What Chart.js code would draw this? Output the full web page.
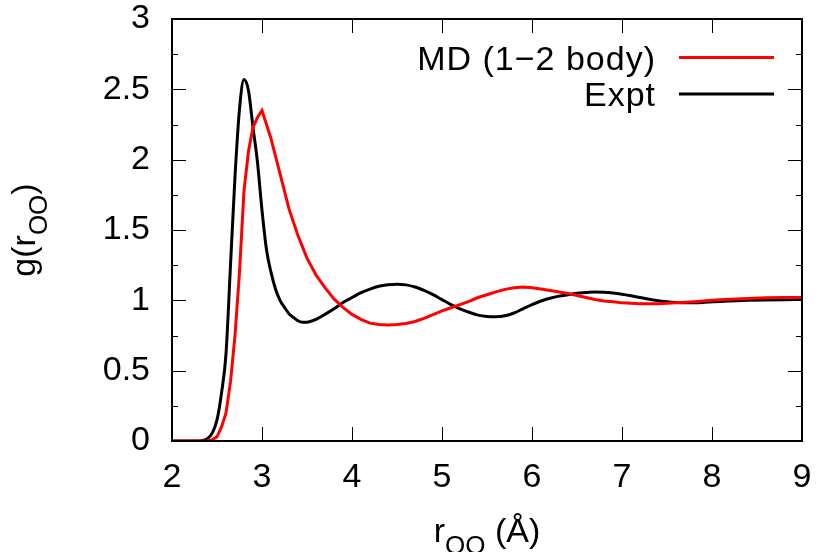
<!DOCTYPE html>
<html>
<head>
<meta charset="utf-8">
<script src="https://cdn.jsdelivr.net/npm/chart.js@4.4.1/dist/chart.umd.min.js"></script>
<style>
  body { margin: 0; background: #fff; }
  #wrap { width: 817px; height: 552px; position: relative; }
</style>
</head>
<body>
<div id="wrap"><canvas id="rdfChart"></canvas></div>
<script>
// g(r_OO) curves
var rMD = [2.0, 2.2, 2.4, 2.45, 2.5, 2.55, 2.6, 2.65, 2.7, 2.75, 2.8, 2.85, 2.9, 2.95, 3.0, 3.05, 3.1, 3.2, 3.3, 3.4, 3.5, 3.6, 3.7, 3.8, 3.9, 4.0, 4.1, 4.2, 4.3, 4.4, 4.5, 4.6, 4.7, 4.8, 4.9, 5.0, 5.1, 5.2, 5.3, 5.4, 5.5, 5.6, 5.7, 5.8, 5.9, 6.0, 6.1, 6.2, 6.3, 6.4, 6.5, 6.6, 6.7, 6.8, 6.9, 7.0, 7.2, 7.4, 7.6, 7.8, 8.0, 8.2, 8.4, 8.6, 8.8, 9.0];
var gMD = [0, 0, 0, 0.01, 0.03, 0.1, 0.2, 0.42, 0.75, 1.2, 1.78, 2.06, 2.23, 2.3, 2.35, 2.25, 2.15, 1.9, 1.65, 1.46, 1.3, 1.18, 1.09, 1.01, 0.95, 0.9, 0.865, 0.838, 0.828, 0.825, 0.828, 0.835, 0.85, 0.872, 0.898, 0.925, 0.947, 0.97, 0.992, 1.02, 1.04, 1.06, 1.078, 1.09, 1.095, 1.09, 1.08, 1.07, 1.06, 1.049, 1.035, 1.02, 1.006, 0.996, 0.99, 0.982, 0.975, 0.975, 0.982, 0.99, 1.0, 1.008, 1.013, 1.018, 1.02, 1.02];

var rExpt = [2.0, 2.2, 2.3, 2.35, 2.4, 2.45, 2.5, 2.55, 2.6, 2.65, 2.7, 2.75, 2.8, 2.85, 2.9, 2.95, 3.0, 3.05, 3.1, 3.15, 3.2, 3.25, 3.3, 3.35, 3.4, 3.45, 3.5, 3.6, 3.7, 3.8, 3.9, 4.0, 4.1, 4.2, 4.3, 4.4, 4.5, 4.6, 4.7, 4.8, 4.9, 5.0, 5.1, 5.2, 5.3, 5.4, 5.5, 5.6, 5.7, 5.8, 5.9, 6.0, 6.1, 6.2, 6.3, 6.4, 6.5, 6.6, 6.7, 6.8, 6.9, 7.0, 7.1, 7.2, 7.3, 7.4, 7.5, 7.6, 7.7, 7.8, 7.9, 8.0, 8.2, 8.4, 8.6, 8.8, 9.0];
var gExpt = [0, 0, 0, 0.005, 0.02, 0.06, 0.15, 0.34, 0.62, 1.25, 1.88, 2.36, 2.57, 2.49, 2.23, 1.98, 1.64, 1.36, 1.2, 1.08, 1.0, 0.95, 0.905, 0.878, 0.855, 0.845, 0.845, 0.865, 0.9, 0.94, 0.985, 1.02, 1.055, 1.08, 1.1, 1.11, 1.115, 1.11, 1.095, 1.07, 1.04, 1.005, 0.97, 0.94, 0.915, 0.895, 0.885, 0.883, 0.89, 0.91, 0.94, 0.97, 0.995, 1.015, 1.03, 1.04, 1.05, 1.055, 1.06, 1.058, 1.052, 1.043, 1.032, 1.02, 1.008, 0.998, 0.99, 0.985, 0.983, 0.983, 0.985, 0.99, 0.995, 1.0, 1.003, 1.005, 1.006];

var seriesLabels = ['MD (1\u22122 body)', 'Expt'];
var seriesColors = ['#ff0000', '#000000'];

var FONT = 'Liberation Sans, Arial, sans-serif';
Chart.defaults.font.family = FONT;
Chart.defaults.font.size = 34;
Chart.defaults.color = '#000';

function toPoints(xs, ys) {
  return xs.map(function (x, i) { return { x: x, y: ys[i] }; });
}

// gnuplot-like frame: border, inward ticks on all four sides, legend, axis titles
var framePlugin = {
  id: 'frame',
  afterDraw: function (chart) {
    var ctx = chart.ctx, a = chart.chartArea;
    var xs = chart.scales.x, ys = chart.scales.y;
    ctx.save();
    ctx.strokeStyle = '#000';
    ctx.lineWidth = 1;
    xs.ticks.forEach(function (t) {
      var px = Math.round(xs.getPixelForValue(t.value)) + 0.5;
      ctx.beginPath();
      ctx.moveTo(px, a.bottom); ctx.lineTo(px, a.bottom - 14);
      ctx.moveTo(px, a.top); ctx.lineTo(px, a.top + 14);
      ctx.stroke();
    });
    ys.ticks.forEach(function (t) {
      var py = Math.round(ys.getPixelForValue(t.value)) + 0.5;
      var major = Math.abs(t.value * 2 - Math.round(t.value * 2)) < 1e-6;
      var len = major ? 14 : 6;
      ctx.beginPath();
      ctx.moveTo(a.left, py); ctx.lineTo(a.left + len, py);
      ctx.moveTo(a.right, py); ctx.lineTo(a.right - len, py);
      ctx.stroke();
    });
    ctx.lineWidth = 2;
    ctx.strokeRect(a.left, a.top, a.right - a.left, a.bottom - a.top);

    // legend
    ctx.font = '34px ' + FONT;
    ctx.textAlign = 'right';
    ctx.textBaseline = 'alphabetic';
    ctx.letterSpacing = '1px';
    var legY = [57.5, 94];
    chart.data.datasets.forEach(function (ds, i) {
      ctx.fillStyle = '#000';
      ctx.fillText(ds.label, 656, legY[i] + 12);
      ctx.strokeStyle = ds.borderColor;
      ctx.lineWidth = 3;
      ctx.beginPath();
      ctx.moveTo(679, legY[i]); ctx.lineTo(774, legY[i]);
      ctx.stroke();
    });
    ctx.letterSpacing = '0px';

    // axis titles with subscripts
    function subText(parts, baseX, baseY) {
      var widths = parts.map(function (p) {
        ctx.font = p.size + 'px ' + FONT;
        return ctx.measureText(p.t).width;
      });
      var total = widths.reduce(function (s, w) { return s + w; }, 0);
      var x = baseX - total / 2;
      ctx.textAlign = 'left';
      parts.forEach(function (p, i) {
        ctx.font = p.size + 'px ' + FONT;
        ctx.fillText(p.t, x, baseY + p.dy);
        x += widths[i];
      });
    }
    ctx.fillStyle = '#000';
    var xTitle = [{ t: 'r', size: 34, dy: 0 }, { t: 'OO', size: 26, dy: 12 }, { t: ' (\u00c5)', size: 34, dy: 0 }];
    subText(xTitle, (a.left + a.right) / 2, 542);
    ctx.save();
    ctx.translate(35, (a.top + a.bottom) / 2);
    ctx.rotate(-Math.PI / 2);
    var yTitle = [{ t: 'g(r', size: 34, dy: 0 }, { t: 'OO', size: 26, dy: 12 }, { t: ')', size: 34, dy: 0 }];
    subText(yTitle, 0, 0);
    ctx.restore();
    ctx.restore();
  }
};

var ctx = document.getElementById('rdfChart').getContext('2d');
var myChart = new Chart(ctx, {
  type: 'line',
  data: {
    datasets: [{
      label: seriesLabels[0],
      data: toPoints(rMD, gMD),
      borderColor: seriesColors[0],
      borderWidth: 3,
      pointRadius: 0,
      tension: 0
    }, {
      label: seriesLabels[1],
      data: toPoints(rExpt, gExpt),
      borderColor: seriesColors[1],
      borderWidth: 3,
      pointRadius: 0,
      cubicInterpolationMode: 'monotone'
    }]
  },
  options: {
    responsive: true,
    maintainAspectRatio: false,
    animation: false,
    layout: { padding: { top: 19, right: 15, left: 0, bottom: 0 } },
    plugins: { legend: { display: false }, tooltip: { enabled: false } },
    scales: {
      x: {
        type: 'linear', min: 2, max: 9,
        grid: { display: false, drawTicks: false },
        border: { display: false },
        ticks: { stepSize: 1, padding: 16, maxRotation: 0, autoSkip: false },
        afterFit: function (s) { s.height = 111; s.paddingLeft = 0; s.paddingRight = 0; }
      },
      y: {
        type: 'linear', min: 0, max: 3,
        grid: { display: false, drawTicks: false },
        border: { display: false },
        ticks: {
          stepSize: 0.25, padding: 22, autoSkip: false,
          callback: function (v) {
            return Math.abs(v * 2 - Math.round(v * 2)) < 1e-6 ? String(v) : '';
          }
        },
        afterFit: function (s) { s.width = 172; s.paddingTop = 0; s.paddingBottom = 0; }
      }
    }
  },
  plugins: [framePlugin]
});
</script>
</body>
</html>
